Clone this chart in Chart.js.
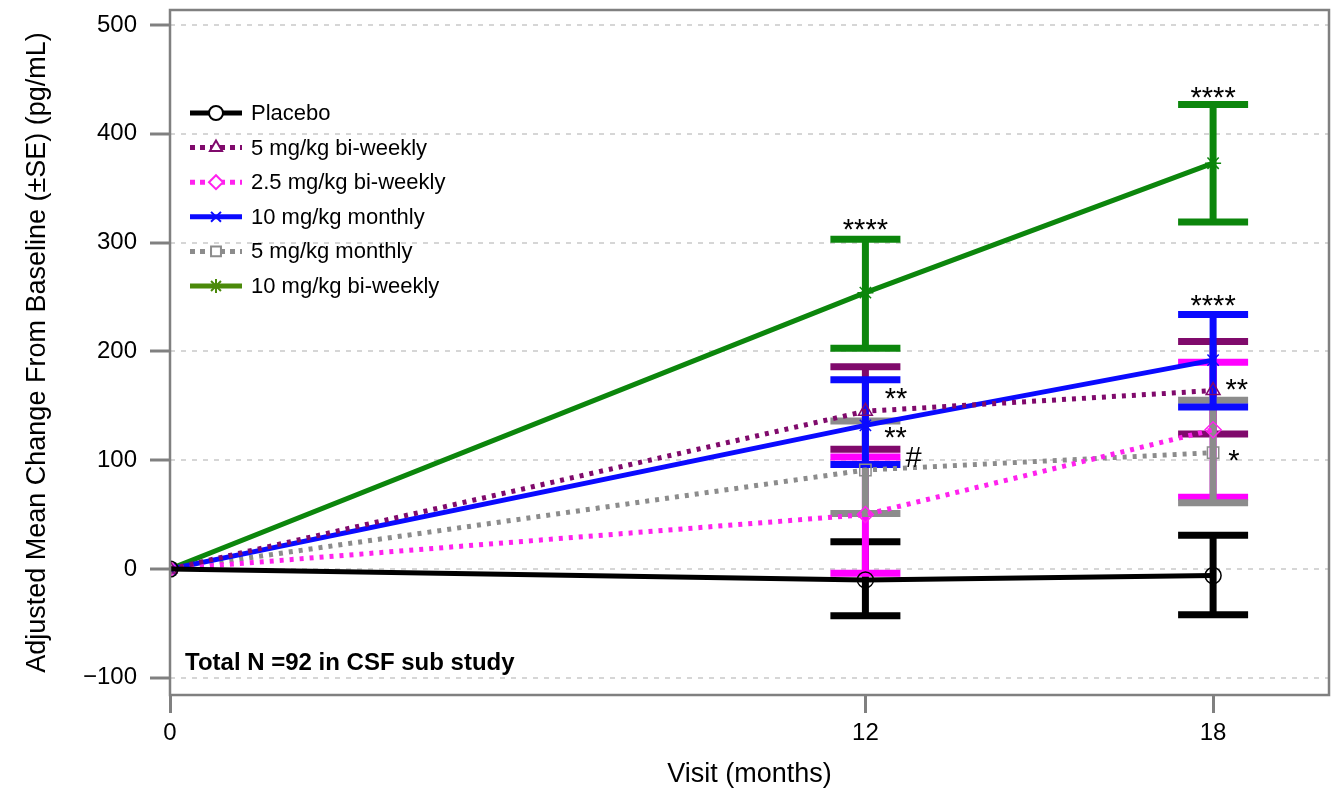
<!DOCTYPE html>
<html>
<head>
<meta charset="utf-8">
<script src="https://cdn.jsdelivr.net/npm/chart.js@4.4.1/dist/chart.umd.min.js"></script>
<style>
  html, body { margin: 0; padding: 0; background: #fff; }
</style>
</head>
<body>
<canvas id="csfChart" width="1334" height="793"></canvas>
<script>
// Visits (months) and axis ticks
const visits = [0, 12, 18];
const xTickLabels = [0, 12, 18];
const yTickLabels = [-100, 0, 100, 200, 300, 400, 500];

const seriesNames = [
  "Placebo",
  "5 mg/kg bi-weekly",
  "2.5 mg/kg bi-weekly",
  "10 mg/kg monthly",
  "5 mg/kg monthly",
  "10 mg/kg bi-weekly",
];

// Adjusted mean change from baseline, with SE bounds
const placebo = [0, -10, -6];
const placeboLow = [null, -43, -42];
const placeboHigh = [null, 25, 31];

const biweekly5 = [0, 145, 164];
const biweekly5Low = [null, 110, 124];
const biweekly5High = [null, 186, 209];

const biweekly25 = [0, 50, 128];
const biweekly25Low = [null, -4, 66];
const biweekly25High = [null, 103, 190];

const monthly10 = [0, 132, 192];
const monthly10Low = [null, 96, 149];
const monthly10High = [null, 174, 234];

const monthly5 = [0, 91, 107];
const monthly5Low = [null, 51, 61];
const monthly5High = [null, 136, 155];

const biweekly10 = [0, 254, 373];
const biweekly10Low = [null, 203, 319];
const biweekly10High = [null, 303, 427];

// Significance marks: x (months), y (baseline, pg/mL), text
const markX = [12, 18, 18, 12.53, 12.52, 12.83, 18.41, 18.36];
const markY = [303, 424.5, 233.5, 148, 112, 94, 156, 91];
const markText = ["****", "****", "****", "**", "**", "#", "**", "*"];

const toPoints = (vals) => visits.map((v, i) => ({ x: v, y: vals[i] }));

function makeSet(i, vals, low, high, color, style, dashed, legendColor) {
  return {
    label: seriesNames[i],
    data: toPoints(vals),
    errLow: low,
    errHigh: high,
    borderColor: color,
    legendColor: legendColor || color,
    borderWidth: 5,
    borderDash: dashed ? [4, 6] : [],
    pointStyle: style,
    pointRadius: 8,
    pointBorderWidth: 1.5,
    pointBorderColor: color,
    pointBackgroundColor: "rgba(0,0,0,0)",
    tension: 0,
    fill: false,
  };
}

const datasets = [
  makeSet(0, placebo, placeboLow, placeboHigh, "#000000", "circle", false),
  makeSet(1, biweekly5, biweekly5Low, biweekly5High, "#800a6c", "triangle", true),
  makeSet(2, biweekly25, biweekly25Low, biweekly25High, "#ff22ee", "rectRot", true),
  makeSet(3, monthly10, monthly10Low, monthly10High, "#0a0aff", "crossRot", false),
  makeSet(4, monthly5, monthly5Low, monthly5High, "#8c8c8c", "rect", true),
  makeSet(5, biweekly10, biweekly10Low, biweekly10High, "#0c860c", "star", false, "#4b8a0a"),
];

// error bars under the lines
const errOrder = [0, 1, 2, 4, 3, 5];
const errorBars = {
  id: "errorBars",
  beforeDatasetsDraw(chart) {
    const { ctx, scales: { x, y } } = chart;
    ctx.save();
    errOrder.forEach((di) => {
      const ds = chart.data.datasets[di];
      const col = ds.borderColor === "#ff22ee" ? "#ff00ff" : ds.borderColor;
      ds.errLow.forEach((lo, i) => {
        if (lo === null) return;
        const px = x.getPixelForValue(visits[i]);
        const y1 = y.getPixelForValue(lo);
        const y2 = y.getPixelForValue(ds.errHigh[i]);
        ctx.strokeStyle = col;
        ctx.lineCap = "butt";
        ctx.lineWidth = 7;
        ctx.beginPath();
        ctx.moveTo(px, y1);
        ctx.lineTo(px, y2);
        ctx.stroke();
        [y1, y2].forEach((yy) => {
          ctx.beginPath();
          ctx.moveTo(px - 35, yy);
          ctx.lineTo(px + 35, yy);
          ctx.stroke();
        });
      });
    });
    ctx.restore();
  },
};

// frame, annotations and legend inside the plot
const extras = {
  id: "extras",
  afterDraw(chart) {
    const { ctx, chartArea: a, scales: { x, y } } = chart;
    ctx.save();
    ctx.strokeStyle = "#808080";
    ctx.lineWidth = 2.5;
    ctx.strokeRect(a.left, a.top, a.right - a.left, a.bottom - a.top);

    ctx.fillStyle = "#000";
    ctx.font = "29px 'Liberation Sans', Arial, sans-serif";
    ctx.textAlign = "center";
    ctx.textBaseline = "alphabetic";
    markText.forEach((t, i) => {
      ctx.fillText(t, x.getPixelForValue(markX[i]), y.getPixelForValue(markY[i]));
    });

    ctx.font = "bold 24px 'Liberation Sans', Arial, sans-serif";
    ctx.textAlign = "left";
    ctx.fillText("Total N =92 in CSF sub study", a.left + 15, a.bottom - 25);

    // legend
    ctx.font = "22px 'Liberation Sans', Arial, sans-serif";
    ctx.textBaseline = "middle";
    chart.data.datasets.forEach((ds, i) => {
      const ly = a.top + 103 + i * 34.6;
      const lx = a.left + 20;
      ctx.strokeStyle = ds.legendColor;
      ctx.lineWidth = 5;
      ctx.setLineDash(ds.borderDash.length ? [5, 5] : []);
      ctx.beginPath();
      ctx.moveTo(lx, ly);
      ctx.lineTo(lx + 52, ly);
      ctx.stroke();
      ctx.setLineDash([]);
      ctx.fillStyle = "#fff";
      ctx.lineWidth = 2;
      Chart.helpers.drawPoint(ctx, { pointStyle: ds.pointStyle, radius: 7, borderWidth: 2, rotation: 0 }, lx + 26, ly);
      ctx.fillStyle = "#000";
      ctx.fillText(ds.label, lx + 61, ly + 1);
    });
    ctx.restore();
  },
};

const tickFont = { family: "'Liberation Sans', Arial, sans-serif", size: 24 };
const titleFont = { family: "'Liberation Sans', Arial, sans-serif", size: 27 };

new Chart(document.getElementById("csfChart").getContext("2d"), {
  type: "line",
  data: { datasets },
  plugins: [errorBars, extras],
  options: {
    responsive: false,
    animation: false,
    devicePixelRatio: 1,
    layout: { autoPadding: false, padding: { top: 10, right: 5, left: 0, bottom: 0 } },
    plugins: { legend: { display: false }, tooltip: { enabled: false } },
    scales: {
      x: {
        type: "linear",
        min: 0,
        max: 20,
        afterBuildTicks: (s) => { s.ticks = xTickLabels.map((v) => ({ value: v })); },
        afterFit: (s) => { s.height = 98; s.paddingLeft = 0; s.paddingRight = 0; },
        grid: {
          drawOnChartArea: false,
          drawTicks: true,
          tickLength: 18,
          tickWidth: 3,
          tickColor: "#808080",
        },
        border: { display: false },
        ticks: { color: "#000", font: tickFont, padding: 6, maxRotation: 0 },
        title: {
          display: true,
          text: "Visit (months)",
          color: "#000",
          font: titleFont,
          padding: { top: 0, bottom: 2 },
        },
      },
      y: {
        type: "linear",
        min: -115.8,
        max: 513.8,
        afterBuildTicks: (s) => { s.ticks = yTickLabels.map((v) => ({ value: v })); },
        afterFit: (s) => { s.width = 170; s.paddingTop = 0; s.paddingBottom = 0; },
        grid: {
          color: "#d6d6d6",
          lineWidth: 2,
          tickLength: 20,
          tickWidth: 3,
          tickColor: "#808080",
          tickBorderDash: [],
        },
        border: { display: false, dash: [5, 6] },
        ticks: {
          color: "#000",
          font: tickFont,
          padding: 13,
          callback: (v) => (v < 0 ? "\u2212" + Math.abs(v) : String(v)),
        },
        title: {
          display: true,
          text: "Adjusted Mean Change From Baseline (\u00b1SE) (pg/mL)",
          color: "#000",
          font: titleFont,
          padding: { top: 21, bottom: 0 },
        },
      },
    },
  },
});
</script>
</body>
</html>
